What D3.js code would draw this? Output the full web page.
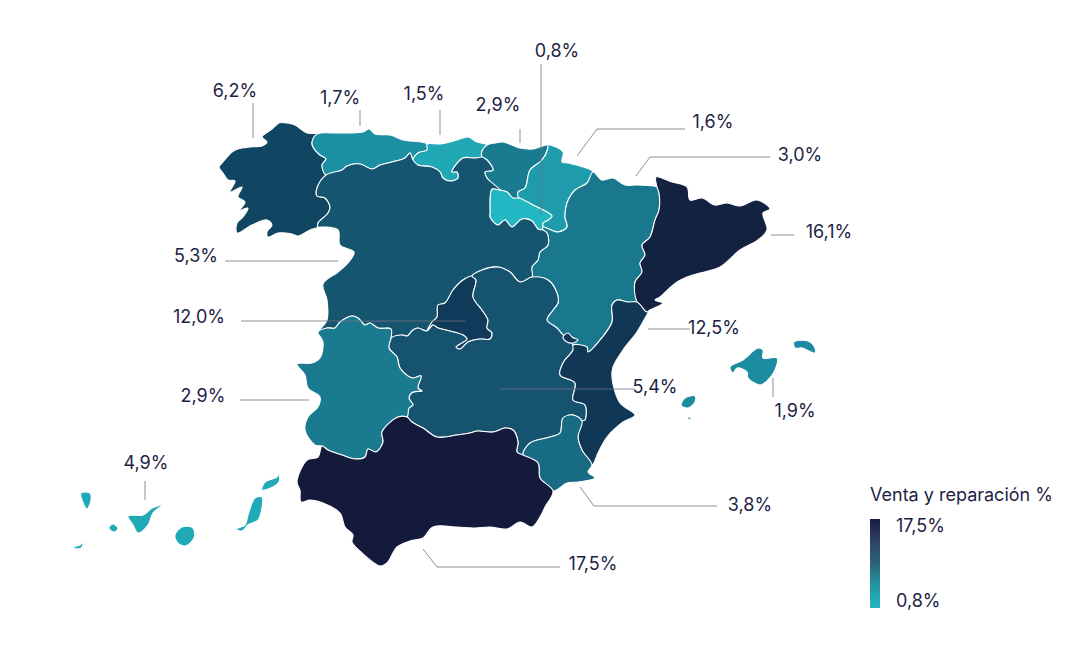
<!DOCTYPE html>
<html>
<head>
<meta charset="utf-8">
<script src="https://cdn.jsdelivr.net/npm/d3@7"></script>
<style>
  html, body { margin: 0; background: #fff; }
  text { font-family: Inter, "Noto Sans", sans-serif; fill: #1d1f45; }
</style>
</head>
<body>
<div id="map"></div>
<script>
// values
const regions = ['Galicia', 'Asturias', 'Cantabria', 'País Vasco', 'Navarra', 'La Rioja', 'Aragón', 'Cataluña',
  'Castilla y León', 'Madrid', 'Castilla-La Mancha', 'C. Valenciana', 'Extremadura', 'Murcia', 'Andalucía', 'Baleares', 'Canarias'];
const values = [6.2, 1.7, 1.5, 2.9, 1.6, 0.8, 3.0, 16.1, 5.3, 12.0, 5.4, 12.5, 2.9, 3.8, 17.5, 1.9, 4.9];
// the original paints Canarias much lighter than its 4,9% label
const shades = [6.2, 1.7, 1.5, 2.9, 1.6, 0.8, 3.0, 16.1, 5.3, 12.0, 5.4, 12.5, 2.9, 3.8, 17.5, 1.9, 1.45];

const colorStops = [0.8, 1.5, 1.7, 2.9, 3.8, 5.4, 6.2, 12, 16.1, 17.5];
const colorRange = ['#22b7c3', '#20a8b5', '#1c90a3', '#1a7a90', '#176b82', '#16536f', '#114662', '#103a59', '#142242', '#131a3b'];

// outline arcs, in map units, shared between neighbours
const coastGal = [[317,134],[307,133],[295,125],[287,123],[279,123],[272,129],[262,137],[267,142],[262,146],[250,147],[238,149],[232,152],[223,162],[219,167],[223,173],[228,180],[235,181],[230,192],[242,187],[238,197],[245,202],[240,210],[248,208],[243,217],[237,223],[237,233],[252,225],[267,220],[272,225],[267,232],[268,237],[278,233],[292,234],[298,236],[310,230],[318,227]];
const galCyl = [[318,227],[318,223],[328,213],[330,207],[325,198],[317,196],[317,188],[326,175]];
const galAst = [[326,175],[322,165],[326,159],[320,155],[313,147],[312,142],[317,134]];
const astCoast = [[317,134],[337,133],[350,133],[363,132],[369,129],[375,134],[390,135],[403,140],[427,144]];
const astCan = [[427,144],[427,150],[418,153],[413,160]];
const astCyl = [[326,175],[342,170],[347,166],[360,164],[372,169],[380,165],[392,162],[405,158],[410,153],[413,160]];
const canCoast = [[427,144],[440,144],[457,140],[468,137],[477,142],[487,145]];
const canCyl = [[413,160],[418,165],[432,167],[440,172],[443,178],[450,181],[458,178],[457,172],[452,172],[463,158],[475,158],[482,157]];
const canPv = [[487,145],[482,151],[482,157]];
const pvCoast = [[487,145],[495,143],[503,142],[520,148],[533,149],[548,145]];
const pvNav = [[548,145],[548,148],[542,160],[530,170],[525,188],[518,192],[519,198]];
const pvCyl = [[482,157],[487,160],[493,170],[485,172],[487,178],[500,190]];
const pvRio = [[500,190],[507,192],[513,198],[519,198]];
const rioCyl = [[500,190],[492,189],[490,213],[490,217],[498,225],[505,220],[512,227],[522,219],[532,221],[538,229],[543,230]];
const rioNav = [[519,198],[533,205],[552,216],[548,220],[543,223],[543,230]];
const navCoast = [[548,145],[563,152],[562,162],[568,163],[593,172]];
const navAra = [[593,172],[587,183],[575,190],[567,203],[565,217],[567,227],[558,232],[543,227],[543,230]];
const araCoast = [[593,172],[602,180],[613,178],[625,185],[637,185],[657,187]];
const araCat = [[657,187],[659,193],[659,210],[655,220],[650,237],[642,245],[645,255],[640,263],[642,272],[635,282],[637,302]];
const catCoast = [[657,187],[656,177],[672,182],[687,187],[690,200],[702,198],[715,205],[727,203],[740,206],[757,200],[770,209],[763,213],[767,230],[758,240],[740,250],[720,267],[693,275],[677,282],[660,297],[655,300],[663,303],[650,310]];
const catVal = [[650,310],[647,312],[637,302]];
const araVal = [[637,302],[628,302],[617,300],[612,305],[612,322],[600,340],[588,352],[587,347],[573,345]];
const araClm = [[532,277],[548,280],[557,293],[558,303],[553,310],[547,320],[557,328],[563,335],[573,345]];
const araCyl = [[543,230],[547,233],[548,245],[540,252],[538,260],[532,267],[532,277]];
const cylClm = [[532,277],[520,282],[510,272],[498,267],[482,270],[472,276]];
const madClm = [[472,276],[476,280],[473,297],[482,310],[488,320],[487,328],[492,333],[490,339],[480,339],[468,342],[460,349],[456,347],[467,339],[463,335],[450,331],[438,328],[433,325],[427,331]];
const madCyl = [[427,331],[432,322],[437,317],[438,305],[445,303],[453,290],[463,280],[472,276]];
const cylClm2 = [[427,331],[418,328],[413,330],[407,336],[402,335],[391,338]];
const extCyl = [[318,332],[327,328],[335,328],[340,322],[352,316],[358,318],[365,325],[370,323],[378,328],[391,329],[391,338]];
const extClm = [[391,338],[389,348],[397,357],[400,368],[412,378],[421,376],[418,388],[422,391],[413,392],[409,398],[413,405],[409,408],[407,417]];
const cylCoast = [[318,227],[322,227],[338,230],[340,245],[354,252],[348,263],[338,272],[323,284],[327,300],[327,320],[318,332]];
const extCoast = [[318,332],[323,342],[320,358],[312,363],[297,364],[305,375],[308,388],[320,397],[318,407],[308,417],[305,430],[315,445],[322,446]];
const extAnd = [[322,446],[328,450],[342,455],[355,459],[365,457],[368,449],[376,452],[383,442],[382,432],[398,417],[407,417]];
const clmAnd = [[407,417],[412,422],[423,428],[437,437],[457,435],[470,433],[478,431],[493,432],[505,428],[513,430],[518,442],[517,452],[523,455]];
const clmMur = [[523,455],[530,443],[550,437],[560,433],[563,418],[573,415],[582,421]];
const clmVal = [[582,421],[585,420],[585,405],[573,400],[575,383],[560,375],[563,363],[573,350],[573,345]];
const murVal = [[592,465],[582,450],[578,437],[582,421]];
const murCoast = [[592,465],[588,472],[595,478],[578,482],[567,483],[553,491]];
const murAnd = [[523,455],[538,463],[540,478],[553,491]];
const andCoast = [[553,491],[545,507],[540,517],[532,527],[520,522],[507,529],[490,527],[473,528],[457,527],[433,527],[423,538],[410,541],[397,547],[387,563],[380,566],[362,553],[352,542],[353,535],[345,527],[340,513],[323,503],[310,500],[301,502],[300,490],[297,482],[307,460],[318,457],[322,446]];
const valCoast = [[650,310],[648,313],[637,332],[623,350],[613,367],[612,378],[620,403],[635,415],[623,422],[607,437],[598,453],[592,465]];
const ademuz = [[563,337],[568,333],[572,337],[578,340],[573,343],[567,342]];

const mallorca = [[730,367],[743,360],[758,348],[763,350],[763,358],[777,358],[775,370],[768,380],[760,385],[748,378],[747,372],[737,368],[733,373]];
const menorca = [[794,342],[808,341],[815,348],[815,353],[802,348],[795,348]];
const ibiza = [[681,405],[685,398],[695,396],[695,402],[688,408],[683,407]];
const formentera = [[688,417],[692,418],[691,419],[688,419]];
const laPalma = [[81,493],[90,493],[91,500],[87,509],[82,500]];
const elHierro = [[73,547],[80,545],[83,542],[82,547],[78,549]];
const gomera = [[109,527],[113,524],[118,528],[115,532],[110,530]];
const tenerife = [[128,516],[143,515],[152,508],[162,505],[153,513],[148,525],[138,533],[133,525]];
const granCanaria = [[182,527],[193,528],[194,538],[185,546],[177,542],[175,535]];
const fuerteventura = [[255,498],[262,497],[262,508],[258,520],[248,525],[242,531],[236,529],[245,525],[248,515]];
const lanzarote = [[262,490],[265,482],[277,477],[279,473],[279,482],[273,487]];

const rev = a => a.slice().reverse();
// joins arcs into one ring, dropping the repeated point where two arcs meet
const ring = (...arcs) => arcs.flat().filter((p, i, all) => {
  const q = all[(i + 1) % all.length];
  return p[0] !== q[0] || p[1] !== q[1];
});

const shapes = [
  [ring(coastGal, galCyl, galAst)],
  [ring(astCoast, astCan, rev(astCyl), galAst)],
  [ring(canCoast, canPv, rev(canCyl), rev(astCan))],
  [ring(pvCoast, pvNav, rev(pvRio), rev(pvCyl), rev(canPv))],
  [ring(navCoast, navAra, rev(rioNav), rev(pvNav))],
  [ring(pvRio, rioNav, rev(rioCyl))],
  [ring(araCoast, araCat, araVal, rev(araClm), rev(araCyl), rev(navAra))],
  [ring(catCoast, catVal, rev(araCat))],
  [ring(galCyl, astCyl, canCyl, pvCyl, rioCyl, araCyl, cylClm, rev(madCyl), cylClm2, rev(extCyl), rev(cylCoast))],
  [ring(madClm, madCyl)],
  [ring(cylClm, madClm, cylClm2, extClm, clmAnd, clmMur, clmVal, rev(araClm))],
  [ring(valCoast, murVal, clmVal, rev(araVal), rev(catVal)), ademuz],
  [ring(extCyl, extClm, rev(extAnd), rev(extCoast))],
  [ring(clmMur, rev(murVal), murCoast, rev(murAnd))],
  [ring(clmAnd, murAnd, andCoast, extAnd)],
  [mallorca, menorca, ibiza, formentera],
  [laPalma, elHierro, gomera, tenerife, granCanaria, fuerteventura, lanzarote]
];

// label anchors and their leader lines, one per region
const labelPos = [[235,97],[340,104],[424,100],[498,111],[713,128],[557,57],[800,161],[829,238],[196,262],[199,323],[655,393],[714,334],[203,402],[750,511],[593,570],[795,417],[146,469]];
const leaders = [
  [[253,103],[253,138]], [[360,110],[360,126]], [[440,110],[440,135]], [[520,129],[520,143]],
  [[577,156],[597,129],[685,129]], [[541,64],[541,215]], [[636,176],[650,157],[770,157]], [[771,235],[794,235]],
  [[225,261],[338,261]], [[241,321],[465,321]], [[500,389],[634,389]], [[648,329],[690,329]],
  [[240,400],[309,400]], [[580,487],[594,506],[717,506]], [[423,549],[437,567],[560,567]], [[773,378],[773,397]], [[145,481],[145,500]]
];

const width = 1091, height = 662;
const fmt = v => v.toFixed(1).replace('.', ',') + '%';

const color = d3.scaleLinear().domain(colorStops).range(colorRange);
const projection = d3.geoIdentity();
const outline = d3.line().curve(d3.curveCatmullRomClosed.alpha(0.5));
const line = d3.line();

const svg = d3.select('#map').append('svg')
  .attr('width', width)
  .attr('height', height)
  .style('display', 'block');

svg.append('g').selectAll('path')
  .data(regions)
  .join('path')
  .attr('d', (d, i) => shapes[i].map(r => outline(r.map(p => projection(p)))).join(''))
  .attr('fill', (d, i) => color(shades[i]))
  .attr('stroke', '#fff')
  .attr('stroke-width', 1.1)
  .attr('stroke-linejoin', 'round');

svg.append('g').selectAll('path')
  .data(leaders)
  .join('path')
  .attr('d', d => line(d.map(p => projection(p))))
  .attr('fill', 'none')
  .attr('stroke', '#70707f')
  .attr('stroke-opacity', 0.8)
  .attr('stroke-width', 1);

svg.append('g').selectAll('text')
  .data(values)
  .join('text')
  .attr('x', (d, i) => labelPos[i][0])
  .attr('y', (d, i) => labelPos[i][1])
  .attr('text-anchor', 'middle')
  .attr('font-size', 18)
  .text(fmt);

// legend
const legendScale = d3.scaleLinear().domain([17.5, 0.8]).range([519, 608]);
const grad = svg.append('defs').append('linearGradient')
  .attr('id', 'legend-grad')
  .attr('x1', 0).attr('x2', 0).attr('y1', 0).attr('y2', 1);
const legendOffsets = [0, 0.25, 0.5, 0.75, 1];
const legendColors = ['#181d42', '#2e4261', '#2b6478', '#2496a2', '#22b8c4'];
grad.selectAll('stop')
  .data(legendOffsets)
  .join('stop')
  .attr('offset', d => d)
  .attr('stop-color', (d, i) => legendColors[i]);

svg.append('rect')
  .attr('x', 870)
  .attr('y', legendScale(17.5))
  .attr('width', 10)
  .attr('height', legendScale(0.8) - legendScale(17.5))
  .attr('fill', 'url(#legend-grad)');

svg.append('text')
  .attr('x', 870)
  .attr('y', 501)
  .attr('font-size', 18)
  .text('Venta y reparación %');

svg.selectAll('.legend-tick')
  .data(legendScale.domain())
  .join('text')
  .attr('class', 'legend-tick')
  .attr('x', 896)
  .attr('y', (d, i) => i === 0 ? 532 : 607)
  .attr('font-size', 18)
  .text(fmt);
</script>
</body>
</html>
